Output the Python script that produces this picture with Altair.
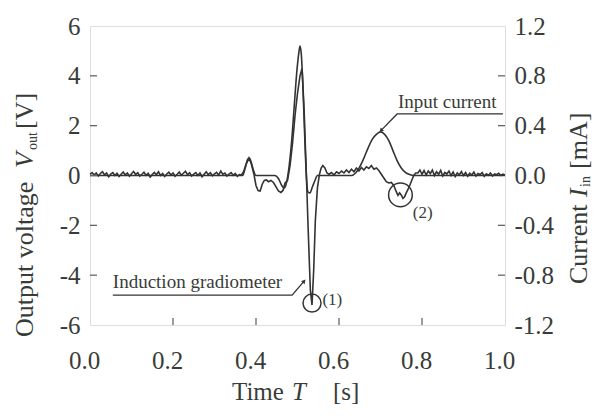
import altair as alt
import pandas as pd

# ---------------- data ----------------
# gradiometer baseline noise before the event: t = 0.000 .. 0.360, step 0.005
noise_pre_start = 0.0
noise_pre_step = 0.005
noise_pre = [0.05, 0.12, 0.02, 0.10, -0.02, 0.08, 0.15, 0.03, 0.10, -0.05,
             0.06, 0.12, 0.00, 0.09, -0.04, 0.05, 0.14, 0.02, 0.10, -0.03,
             0.07, 0.16, 0.04, 0.11, -0.02, 0.05, 0.13, 0.01, 0.09, -0.06,
             0.04, 0.12, 0.03, 0.15, 0.00, 0.08, -0.04, 0.06, 0.13, 0.02,
             0.10, -0.03, 0.05, 0.14, 0.01, 0.09, 0.17, 0.03, 0.11, -0.02,
             0.06, 0.12, 0.00, 0.10, -0.05, 0.05, 0.15, 0.04, 0.11, -0.01,
             0.07, 0.13, 0.02, 0.18, 0.05, 0.10, -0.02, 0.06, 0.12, 0.01,
             0.08, -0.03, 0.04]

# gradiometer during the event
grad_mid_t = [0.365, 0.370, 0.376, 0.383, 0.389, 0.395, 0.400, 0.405, 0.410, 0.415,
              0.420, 0.425, 0.430, 0.436, 0.442, 0.448, 0.454, 0.460, 0.465, 0.470,
              0.476, 0.482, 0.488, 0.494, 0.500, 0.506, 0.511, 0.516, 0.521, 0.526,
              0.531, 0.535, 0.539, 0.543, 0.548, 0.553, 0.557, 0.561, 0.566, 0.571,
              0.576, 0.582, 0.588, 0.594, 0.600, 0.606, 0.612, 0.618, 0.624, 0.630,
              0.636, 0.642, 0.648, 0.654, 0.660, 0.666, 0.672, 0.678, 0.684, 0.690,
              0.696, 0.702, 0.708, 0.714, 0.720, 0.726, 0.732, 0.738, 0.742, 0.746,
              0.750, 0.754, 0.758, 0.762, 0.768, 0.774, 0.780, 0.785]
grad_mid_v = [0.02, 0.15, 0.45, 0.70, 0.45, 0.05, -0.40, -0.60, -0.62, -0.35,
              -0.20, -0.18, -0.25, -0.20, -0.28, -0.45, -0.62, -0.68, -0.60, -0.30,
              -0.20, 0.40, 1.30, 2.40, 3.30, 4.00, 4.30, 2.60, 0.20, -2.30,
              -4.60, -5.20, -3.80, -1.80, -0.50, 0.05, 0.30, 0.40, 0.30, 0.10,
              0.05, 0.12, 0.02, 0.15, 0.08, 0.18, 0.10, 0.22, 0.12, 0.25,
              0.15, 0.30, 0.18, 0.32, 0.22, 0.35, 0.28, 0.40, 0.25, 0.30,
              0.20, 0.05, -0.10, -0.25, -0.30, -0.28, -0.40, -0.65, -0.80, -0.70,
              -0.78, -0.92, -0.85, -0.70, -0.50, -0.25, 0.00, 0.10]

# gradiometer noise after the event: t = 0.790 .. 1.000, step 0.005
noise_post_start = 0.79
noise_post_step = 0.005
noise_post = [0.10, 0.22, 0.05, 0.20, 0.02, 0.18, 0.08, 0.22, 0.00, 0.15,
              0.05, 0.20, -0.02, 0.12, 0.06, 0.18, 0.00, 0.14, -0.04, 0.10,
              0.03, 0.16, 0.00, 0.12, -0.03, 0.09, 0.02, 0.14, -0.02, 0.08,
              0.04, 0.12, -0.03, 0.07, 0.01, 0.10, -0.02, 0.06, 0.03, 0.09,
              0.00, 0.05, 0.02]

# input current (mA)
cur_t = [0.0, 0.368, 0.374, 0.380, 0.384, 0.389, 0.394, 0.400, 0.445, 0.455,
         0.462, 0.468, 0.474, 0.480, 0.486, 0.492, 0.498, 0.503, 0.506, 0.509,
         0.513, 0.517, 0.521, 0.525, 0.530, 0.536, 0.542, 0.548, 0.630, 0.640,
         0.650, 0.660, 0.670, 0.680, 0.690, 0.700, 0.710, 0.720, 0.730, 0.740,
         0.750, 0.760, 0.770, 0.780, 1.0]
cur_v = [0.0, 0.0, 0.06, 0.13, 0.14, 0.10, 0.04, 0.0, 0.0, -0.03,
         -0.08, -0.10, -0.05, 0.08, 0.28, 0.55, 0.82, 0.98, 1.04, 0.98,
         0.72, 0.35, 0.02, -0.13, -0.14, -0.09, -0.04, 0.0, 0.0, 0.02,
         0.07, 0.14, 0.22, 0.29, 0.33, 0.35, 0.33, 0.28, 0.20, 0.12,
         0.06, 0.025, 0.008, 0.0, 0.0]

x_ticks = [0.0, 0.2, 0.4, 0.6, 0.8, 1.0]
left_ticks = [-6, -4, -2, 0, 2, 4, 6]
right_ticks = [-1.2, -0.8, -0.4, 0.0, 0.4, 0.8, 1.2]
x_inner_ticks = [0.2, 0.4, 0.6, 0.8]
left_inner_ticks = [-4, -2, 0, 2, 4]
right_inner_ticks = [-0.8, -0.4, 0.4, 0.8]

# ---------------- build tables ----------------
g_t = [round(noise_pre_start + i * noise_pre_step, 4) for i in range(len(noise_pre))]
g_t += grad_mid_t
g_t += [round(noise_post_start + i * noise_post_step, 4) for i in range(len(noise_post))]
g_v = noise_pre + grad_mid_v + noise_post
grad_df = pd.DataFrame({"t": g_t, "v": g_v})
cur_df = pd.DataFrame({"t": cur_t, "i": cur_v})

W, H = 415, 299
INK = "#333333"
TXT = "#383c38"
FONT = "Liberation Serif"

xs = alt.Scale(domain=[0, 1], nice=False, zero=False)
ys = alt.Scale(domain=[-6, 6], nice=False, zero=False)
ys2 = alt.Scale(domain=[-1.2, 1.2], nice=False, zero=False)

minus_fmt_1 = "datum.value < 0 ? '-' + format(-datum.value, '.1f') : format(datum.value, '.1f')"
minus_fmt_0 = "datum.value < 0 ? '-' + format(-datum.value, 'd') : format(datum.value, 'd')"

X_AX = alt.Axis(values=x_ticks, labelExpr=minus_fmt_1, ticks=False, domain=False, grid=False,
                labelFont=FONT, labelColor=TXT, labelFontSize=25, labelPadding=23,
                labelOffset=-6, labelFlush=False, title=None)


def X(field="t"):
    return alt.X(f"{field}:Q", scale=xs, axis=X_AX)


grad = alt.Chart(grad_df).mark_line(color=INK, strokeWidth=1.6).encode(
    x=X(),
    y=alt.Y("v:Q", scale=ys, axis=alt.Axis(values=left_ticks, labelExpr=minus_fmt_0,
                                           ticks=False, domain=False, grid=False,
                                           labelFont=FONT, labelColor=TXT, labelFlush=False,
                                           labelFontSize=25, labelPadding=10, title=None,
                                           orient="left")),
)

cur = alt.Chart(cur_df).mark_line(color=INK, strokeWidth=1.6, interpolate="monotone").encode(
    x=X(),
    y=alt.Y("i:Q", scale=ys2, axis=alt.Axis(values=right_ticks, labelExpr=minus_fmt_1,
                                            ticks=False, domain=False, grid=False,
                                            labelFont=FONT, labelColor=TXT, labelFlush=False,
                                            labelFontSize=25, labelPadding=9, title=None,
                                            orient="right")),
)

# inward tick marks
tick_len = 7
lt = alt.Chart(pd.DataFrame({"v": left_inner_ticks})).mark_rule(color="#666666", strokeWidth=1.3).encode(
    y=alt.Y("v:Q", scale=ys, axis=None), x=alt.value(0), x2=alt.value(tick_len))
rt = alt.Chart(pd.DataFrame({"v": right_inner_ticks})).mark_rule(color="#666666", strokeWidth=1.3).encode(
    y=alt.Y("v:Q", scale=ys2, axis=None), x=alt.value(W - tick_len), x2=alt.value(W))
bt = alt.Chart(pd.DataFrame({"t": x_inner_ticks})).mark_rule(color="#666666", strokeWidth=1.3).encode(
    x=X(), y=alt.value(H - tick_len), y2=alt.value(H))


# annotations (in data coordinates)
def ann_text(t, v, s, size=19, align="left", baseline="alphabetic"):
    return alt.Chart(pd.DataFrame({"t": [t], "v": [v], "s": [s]})).mark_text(
        font=FONT, fontSize=size, color=TXT, align=align, baseline=baseline).encode(
        x=X(), y=alt.Y("v:Q", scale=ys, axis=None), text="s:N")


def leader(ts, vs):
    return alt.Chart(pd.DataFrame({"t": ts, "v": vs, "o": list(range(len(ts)))})).mark_line(
        color=INK, strokeWidth=1.3).encode(
        x=X(), y=alt.Y("v:Q", scale=ys, axis=None), order="o:Q")


def ring(t, v, size):
    return alt.Chart(pd.DataFrame({"t": [t], "v": [v]})).mark_point(
        shape="circle", filled=False, color=INK, strokeWidth=1.5, size=size, opacity=1).encode(
        x=X(), y=alt.Y("v:Q", scale=ys, axis=None))


def head(t, v, angle):
    return alt.Chart(pd.DataFrame({"t": [t], "v": [v]})).mark_point(
        shape="triangle-up", filled=True, color=INK, size=22, angle=angle, opacity=1).encode(
        x=X(), y=alt.Y("v:Q", scale=ys, axis=None))


ann = [
    ann_text(0.055, -4.51, "Induction gradiometer"),
    leader([0.055, 0.487, 0.516], [-4.80, -4.80, -4.24]),
    head(0.516, -4.24, 41),
    ring(0.535, -5.12, 324),
    ann_text(0.560, -5.0, "(1)", size=17, baseline="middle"),
    ann_text(0.742, 2.71, "Input current"),
    leader([0.995, 0.740, 0.701], [2.47, 2.47, 1.80]),
    head(0.701, 1.80, 227),
    ring(0.748, -0.78, 560),
    ann_text(0.778, -1.5, "(2)", size=17, baseline="middle"),
]


# axis titles built from pieces (for italic + subscripts), pixel positions
def ptext(x, y, s, size=25, angle=0, align="left", style="normal", baseline="middle"):
    return alt.Chart(pd.DataFrame({"s": [s]})).mark_text(
        font=FONT, fontSize=size, color=TXT, align=align, baseline=baseline,
        angle=angle, fontStyle=style).encode(
        x=alt.value(x), y=alt.value(y), text="s:N")


titles = [
    # left
    ptext(-65, 311, "Output voltage", size=26, angle=270),
    ptext(-65, 142, "V", size=26, angle=270, style="italic"),
    ptext(-57, 124, "out", size=14, angle=270),
    ptext(-65, 103, "[V]", size=26, angle=270),
    # right
    ptext(489, 258, "Current", size=26, angle=270),
    ptext(489, 171, "I", size=26, angle=270, style="italic"),
    ptext(496, 161, "in", size=14, angle=270),
    ptext(489, 143, "[mA]", size=26, angle=270),
    # bottom
    ptext(142, 366, "Time", size=25),
    ptext(202, 366, "T", size=25, style="italic"),
    ptext(243, 366, "[s]", size=25),
]

chart = alt.layer(grad, cur, lt, rt, bt, *ann, *titles).resolve_scale(y="independent").properties(
    width=W, height=H,
    autosize=alt.AutoSizeParams(type="none"),
    padding={"left": 82, "top": 18, "right": 89, "bottom": 83},
).configure_view(stroke="#6b6b6b", strokeWidth=1.5).configure_axis(
    labelFont=FONT, labelColor=TXT,
).configure(background="white", font=FONT)

chart.save("out.html", embed_options={"renderer": "svg", "actions": False})
